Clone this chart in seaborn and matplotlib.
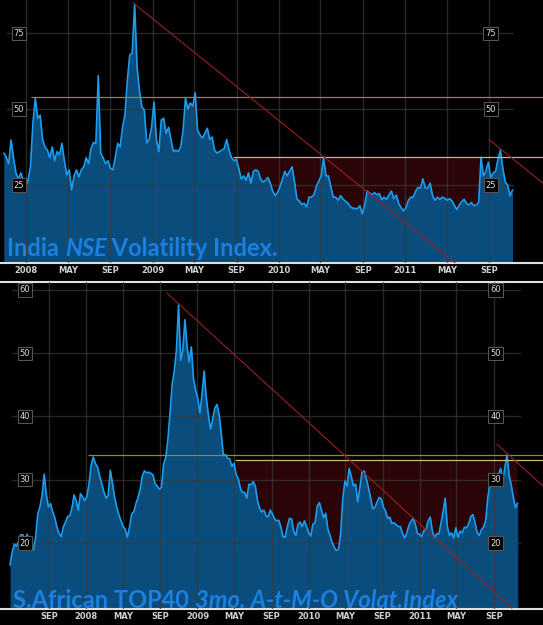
import numpy as np
import pandas as pd
import matplotlib
matplotlib.use('Agg')
import matplotlib.pyplot as plt
import matplotlib.dates as mdates
import matplotlib.transforms as mtransforms
import seaborn as sns

# India NSE volatility index, weekly values
nse_start = '2007-10-29'
nse_vol = [
    35.5, 34.2, 32, 39.8, 34, 29, 27, 29, 26.6, 24.4,
    26.6, 31, 45, 53.6, 47, 48, 40, 37.5, 36.5, 34,
    37.5, 33, 36, 35, 38.7, 33, 28.3, 30, 23.4, 28,
    30, 27.7, 30, 31, 34, 32, 37, 39, 38.7, 61,
    35.5, 34, 32, 33, 30.5, 30, 34, 38.7, 37.5, 44,
    48, 59.5, 67.8, 68.4, 84.5, 64, 56, 50.7, 49.7, 38.8,
    40, 44, 52.3, 40, 36, 46.4, 47, 42, 44, 40,
    36, 36.5, 36, 37.5, 43, 53.6, 50, 52, 51, 55.4,
    43, 41.5, 40.5, 42, 43.7, 40, 40.8, 36.5, 35.5, 36,
    36.5, 37, 40, 36.5, 34, 33, 33.5, 30.5, 27, 28,
    26.6, 29, 25.6, 29.5, 30, 29.5, 27, 26, 26.5, 27.5,
    25.6, 23, 21.5, 22.5, 24.4, 27, 29.5, 28, 29.6, 31,
    26, 20.5, 19.7, 18.6, 19, 17.8, 21, 21, 21.8, 24.5,
    26.3, 28, 33.8, 28, 28, 24.4, 21, 21, 20, 21.5,
    20.4, 19.7, 19.1, 17.9, 17.4, 17.3, 17.2, 18.2, 15.5, 18.5,
    23, 22.3, 21.8, 22.5, 21.8, 22.2, 20.2, 21, 20.3, 21.8,
    23, 20.5, 21.7, 19, 17.5, 16.5, 17.5, 20, 21, 21,
    23, 24.2, 24, 27, 24, 24, 25.6, 21.5, 20, 21,
    20.3, 21, 20.7, 20, 20.5, 19.8, 18.3, 16.9, 18.4, 19.5,
    20.3, 19, 18.4, 19.3, 18.2, 18.4, 19.2, 34.1, 28, 29.5,
    32.5, 27.5, 29, 29.5, 33.5, 36.5, 30.5, 26, 25, 21.5, 23.4,
]

# S.African TOP40 3mo at-the-money vol index, weekly values
sa_start = '2007-04-27'
sa_vol = [
    16.5, 18.6, 19.8, 19.5, 20.2, 21.3, 21.3, 20, 21.4, 20.4,
    19.5, 18.9, 21, 24.6, 25.7, 27.5, 30.9, 27.7, 25.7, 26.2,
    24.9, 24, 22.5, 21.5, 21, 22.6, 23.3, 24.2, 24.3, 25.5,
    27.6, 26.7, 25.2, 27.8, 27.3, 26.7, 27.3, 29.3, 32.3, 33.6,
    32.6, 32, 30.6, 29.4, 28.1, 27.1, 27.5, 31.5, 29.5, 27.3,
    25.7, 24.5, 23.5, 22.6, 22.2, 20.9, 22.5, 24.6, 24.9, 26.2,
    27.2, 28.5, 30.6, 31.4, 31.1, 31.2, 31, 30.8, 29.4, 29,
    28.5, 28.8, 32.5, 33.5, 36.4, 40.5, 45.1, 47.2, 50.5, 57.6,
    48.9, 50.5, 55.3, 51, 48.6, 51, 46, 44.2, 42.9, 40.6,
    43.5, 47.2, 43, 40.2, 38, 39.6, 41.3, 41.9, 40.4, 37.4,
    33.8, 34, 33.4, 33.3, 32.1, 32.6, 30.8, 30.2, 28.6, 28,
    28, 27.1, 29.3, 29.2, 29.7, 29, 26.7, 25.5, 24.9, 25.2,
    24.3, 24.1, 25.2, 24.6, 23.8, 23.5, 23.6, 22.5, 21, 20.9,
    22.6, 23.9, 23.8, 21.8, 21.2, 23, 23.3, 22.6, 23.5, 22.6,
    21.6, 21.1, 23, 23.2, 25.8, 26.4, 25.2, 24, 24.7, 22.2,
    21.2, 20.1, 19.3, 18.8, 19, 21.5, 27, 29.8, 29, 31.8,
    30.5, 29, 29.3, 26.5, 28.7, 31.2, 31.4, 30.2, 28.8, 27.2,
    25.4, 25.6, 26.4, 27.2, 27, 25.7, 25.1, 23.9, 24.1, 23.1,
    23.2, 22.9, 22.6, 22.6, 21.5, 20.8, 21.6, 22.8, 23.4, 23.9,
    23, 21.5, 21.4, 21, 22, 22.1, 23.5, 24.1, 21.9, 20.8,
    21.5, 21.4, 23, 24.9, 27.1, 22.6, 21.2, 21.6, 20.8, 22.4,
    20.9, 21.9, 21.6, 22.5, 22.4, 23, 24.2, 24.5, 23.2, 21.6,
    21.2, 22.1, 22.5, 23.6, 27.2, 29.5, 29.5, 30.4, 29.7, 30.8,
    31.8, 29.7, 32, 33.9, 30.7, 29.1, 27.1, 25.6, 26.3,
]

# horizontal levels and where they start
nse_levels = [54.0, 34.2]
nse_level_from = ['2008-01-15', '2009-08-21']
nse_band = ('2009-08-21', '2011-08-05')     # red shading under the lower level
sa_levels = [33.9, 33.1]
sa_level_from = ['2008-01-08', '2009-05-04']
sa_band = ('2009-05-04', '2011-12-31')

# red trend lines: start date, start value, end date, end value
nse_trends = [('2008-11-05', 85.0, '2011-05-25', -0.6),
              ('2011-08-31', 40.0, '2012-02-03', 25.6)]
sa_trends = [('2008-09-23', 59.5, '2011-10-30', 9.7),
             ('2011-09-11', 35.6, '2012-02-09', 29.0)]

# labelled months on each x axis
nse_ticks = ('2008-01-01', '2011-09-01')
sa_ticks = ('2007-09-01', '2011-09-01')

nse_yticks = [25, 50, 75]
sa_yticks = [20, 30, 40, 50, 60]

BG = 'black'
FILL_C = '#0a4c7c'
LINE_C = '#1c9ef0'
RED_FILL = '#2a0407'
TREND_C = '#9a2020'
TITLE_C = '#1c80e2'
LEVEL_C = ['#8f8a30', '#cdb872']

sns.set_theme(style='dark', rc={'axes.facecolor': BG, 'figure.facecolor': BG,
                                'savefig.facecolor': BG})
plt.rcParams['font.family'] = ['DejaVu Sans']


def month_label(x, pos=None):
    d = mdates.num2date(x)
    return str(d.year) if d.month == 1 else d.strftime('%b').upper()


def draw_panel(ax, start, vals, xlim, ylim, ticks, yticks, levels, level_from,
               band, trends, grid_span, label_x):
    dates = pd.date_range(start, periods=len(vals), freq='7D')
    vals = np.array(vals, dtype=float)
    x0, x1 = pd.Timestamp(xlim[0]), pd.Timestamp(xlim[1])
    ax.set_xlim(x0, x1)
    ax.set_ylim(*ylim)

    # vertical grid at Jan / May / Sep
    tick_dates = pd.date_range(ticks[0], ticks[1], freq='4MS')
    ax.set_xticks(mdates.date2num(tick_dates))
    ax.xaxis.set_major_formatter(plt.FuncFormatter(month_label))
    for t in tick_dates:
        ax.axvline(t, color='#3a3a3a', lw=1, alpha=0.7, zorder=3)
    for v in yticks:
        ax.axhline(v, xmin=grid_span[0], xmax=grid_span[1], color='#3a3a3a',
                   lw=1, alpha=0.7, zorder=3)

    # area + line
    ax.fill_between(dates, vals, ylim[0], color=FILL_C, lw=0, zorder=2)
    lo = levels[1]
    mask = (dates >= pd.Timestamp(band[0])) & (dates <= pd.Timestamp(band[1]))
    ax.fill_between(dates, vals, lo, where=mask & (vals < lo), interpolate=True,
                    color=RED_FILL, lw=0, zorder=1)
    sns.lineplot(x=dates, y=vals, ax=ax, color=LINE_C, lw=1.2, zorder=4,
                 estimator=None)

    for lev, st, c in zip(levels, level_from, LEVEL_C):
        ax.hlines(lev, pd.Timestamp(st), x1, color=c, lw=0.9, zorder=5)
    for d0, v0, d1, v1 in trends:
        ax.plot([pd.Timestamp(d0), pd.Timestamp(d1)], [v0, v1], color=TREND_C,
                lw=0.8, zorder=5)

    # boxed value labels, left and right
    tr = mtransforms.blended_transform_factory(ax.transAxes, ax.transData)
    for v in yticks:
        for lx in label_x:
            ax.text(lx, v, str(v), transform=tr, ha='center', va='center',
                    fontsize=6, color='#dddddd', zorder=7,
                    bbox=dict(boxstyle='square,pad=0.25', fc='black',
                              ec='#555555', lw=0.8))

    ax.set_yticks([])
    ax.set_xlabel('')
    ax.set_ylabel('')
    ax.set_xlim(x0, x1)
    ax.tick_params(axis='x', length=0, pad=2, labelsize=6, colors='#d0d0d0')
    for lab in ax.get_xticklabels():
        lab.set_fontweight('bold')
    for s in ax.spines.values():
        s.set_visible(False)
    ax.grid(False)


def draw_title(ax, parts, x, y):
    prev = None
    for txt, style in parts:
        kw = dict(fontsize=17, fontweight='bold', color=TITLE_C, fontstyle=style,
                  family=['Lato', 'DejaVu Sans'], va='bottom', ha='left', zorder=6)
        if prev is None:
            prev = ax.text(x, y, txt, transform=ax.transAxes, **kw)
        else:
            prev = ax.annotate(txt, xy=(1, 0), xycoords=prev, **kw)


fig = plt.figure(figsize=(5.43, 6.25), dpi=100)
ax1 = fig.add_axes([0, 0.5792, 1, 0.4208])
ax2 = fig.add_axes([0, 0.0256, 1, 0.5232])

draw_panel(ax1, nse_start, nse_vol, ('2007-10-18', '2012-02-03'), (-0.66, 85.9),
           nse_ticks, nse_yticks, nse_levels, nse_level_from, nse_band,
           nse_trends, (0.013, 0.945), (0.035, 0.904))
draw_panel(ax2, sa_start, sa_vol, ('2007-03-25', '2012-02-09'), (9.57, 61.26),
           sa_ticks, sa_yticks, sa_levels, sa_level_from, sa_band, sa_trends,
           (0.022, 0.958), (0.046, 0.913))

ax1.spines['bottom'].set_visible(True)
ax1.spines['bottom'].set_color('#e0e0e0')
ax1.spines['bottom'].set_linewidth(1.5)
for side in ['top', 'bottom']:
    ax2.spines[side].set_visible(True)
    ax2.spines[side].set_color('#e0e0e0')
    ax2.spines[side].set_linewidth(1.5)

draw_title(ax1, [('India ', 'normal'), ('NSE', 'italic'),
                 (' Volatility Index.', 'normal')], 0.013, 0.010)
draw_title(ax2, [('S.African TOP40 ', 'normal'),
                 ('3mo. A-t-M-O Volat.Index', 'italic')], 0.024, -0.010)

fig.savefig('out.png', dpi=100, facecolor=BG)
